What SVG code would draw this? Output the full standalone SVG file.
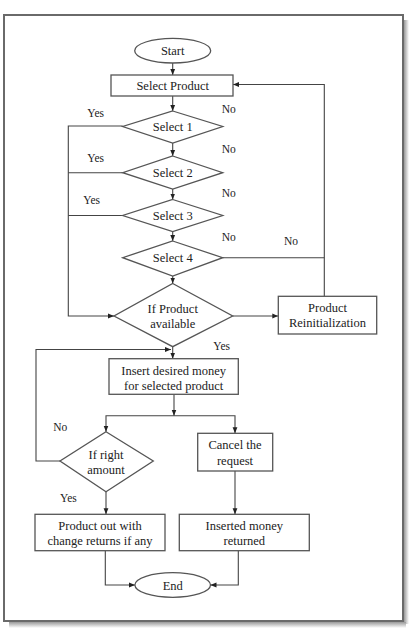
<svg xmlns="http://www.w3.org/2000/svg" width="411" height="633" viewBox="0 0 411 633">
<style>
.n{fill:#fff;stroke:#555;stroke-width:1.3}
.t{font-family:'Liberation Serif',serif;font-size:12.5px;fill:#222;text-anchor:middle}
.l{font-family:'Liberation Serif',serif;font-size:11.5px;fill:#222}
.c{fill:none;stroke:#444;stroke-width:1.1}
</style>
<defs>
<marker id="a" viewBox="0 0 10 10" refX="10" refY="5" markerWidth="6" markerHeight="6" orient="auto-start-reverse" markerUnits="userSpaceOnUse">
<path d="M0,1 L10,5 L0,9 z" fill="#222"/>
</marker>
<linearGradient id="sh" x1="0" y1="0" x2="1" y2="0"><stop offset="0" stop-color="#999"/><stop offset="1" stop-color="#fff"/></linearGradient>
<linearGradient id="shb" x1="0" y1="0" x2="0" y2="1"><stop offset="0" stop-color="#999"/><stop offset="1" stop-color="#fff"/></linearGradient>
</defs>
<rect width="411" height="633" fill="#fff"/>
<g id="frame">
<rect x="404" y="20" width="5" height="604" fill="url(#sh)"/>
<rect x="9" y="622" width="397" height="6" fill="url(#shb)"/>
<rect x="4" y="15" width="399" height="606" fill="#fff" stroke="#6a6a6a" stroke-width="2"/>
</g>
<g id="connectors">
<line class="c" x1="172.7" y1="63" x2="172.7" y2="75" marker-end="url(#a)"/>
<line class="c" x1="172.7" y1="96" x2="172.7" y2="111" marker-end="url(#a)"/>
<line class="c" x1="172.7" y1="143" x2="172.7" y2="156" marker-end="url(#a)"/>
<line class="c" x1="172.7" y1="189" x2="172.7" y2="199.5" marker-end="url(#a)"/>
<line class="c" x1="172.7" y1="231.5" x2="172.7" y2="241" marker-end="url(#a)"/>
<line class="c" x1="172.7" y1="276" x2="172.7" y2="283.5" marker-end="url(#a)"/>
<polyline class="c" points="122.7,126 68.3,126 68.3,316 114,316" marker-end="url(#a)"/>
<line class="c" x1="122.7" y1="172.7" x2="68.3" y2="172.7"/>
<line class="c" x1="122.7" y1="215.5" x2="68.3" y2="215.5"/>
<polyline class="c" points="222.7,257.7 324.3,257.7"/>
<polyline class="c" points="324.3,296.3 324.3,84.5 233,84.5" marker-end="url(#a)"/>
<line class="c" x1="232.7" y1="316" x2="278.3" y2="316" marker-end="url(#a)"/>
<line class="c" x1="172.7" y1="346.7" x2="172.7" y2="358.7" marker-end="url(#a)"/>
<line class="c" x1="174" y1="394.3" x2="174" y2="415.7" marker-end="url(#a)"/>
<polyline class="c" points="106,431.7 106,415.7 235,415.7 235,433.3" marker-start="url(#a)" marker-end="url(#a)"/>
<polyline class="c" points="60,461 36,461 36,349.5 171,349.5" marker-end="url(#a)"/>
<line class="c" x1="106" y1="491.7" x2="106" y2="514.3" marker-end="url(#a)"/>
<line class="c" x1="235" y1="471" x2="235" y2="514.3" marker-end="url(#a)"/>
<polyline class="c" points="105.3,550.7 105.3,585 135,585" marker-end="url(#a)"/>
<polyline class="c" points="238.3,550.7 238.3,585 210.5,585" marker-end="url(#a)"/>
</g>
<g id="start"><ellipse class="n" cx="172.7" cy="50.7" rx="38" ry="12.3"/><text class="t" x="172.7" y="55">Start</text></g>
<g id="select-product"><rect class="n" x="111" y="75" width="122" height="21"/><text class="t" x="172.7" y="90">Select Product</text></g>
<g id="select1"><polygon class="n" points="172.7,111 222.7,126.5 172.7,143 122.7,126.5"/><text class="t" x="172.7" y="130.5">Select 1</text></g>
<g id="select2"><polygon class="n" points="172.7,156 222.7,172.7 172.7,189 122.7,172.7"/><text class="t" x="172.7" y="177">Select 2</text></g>
<g id="select3"><polygon class="n" points="172.7,199.5 222.7,215.5 172.7,231.5 122.7,215.5"/><text class="t" x="172.7" y="219.5">Select 3</text></g>
<g id="select4"><polygon class="n" points="172.7,241 222.7,257.7 172.7,276 122.7,257.7"/><text class="t" x="172.7" y="262">Select 4</text></g>
<g id="if-product"><polygon class="n" points="172.7,283.5 232.7,316 172.7,346.7 114,316"/><text class="t" x="172.7" y="312.5">If Product</text><text class="t" x="172.7" y="327.5">available</text></g>
<g id="reinit"><rect class="n" x="278.3" y="296.3" width="98.4" height="37.7"/><text class="t" x="327.5" y="312">Product</text><text class="t" x="327.5" y="327">Reinitialization</text></g>
<g id="insert"><rect class="n" x="109" y="358.7" width="129.3" height="35.6"/><text class="t" x="173.7" y="375">Insert desired money</text><text class="t" x="173.7" y="389.5">for selected product</text></g>
<g id="right-amount"><polygon class="n" points="106,431.7 153.3,461 106,491.7 60,461"/><text class="t" x="106" y="459">If right</text><text class="t" x="106" y="474">amount</text></g>
<g id="cancel"><rect class="n" x="197.7" y="433.3" width="75" height="37.7"/><text class="t" x="235" y="449">Cancel the</text><text class="t" x="235" y="465">request</text></g>
<g id="product-out"><rect class="n" x="35" y="514.3" width="130" height="36.4"/><text class="t" x="100" y="530">Product out with</text><text class="t" x="100" y="544.5">change returns if any</text></g>
<g id="money-returned"><rect class="n" x="179.3" y="514.3" width="130" height="36.4"/><text class="t" x="244.3" y="530">Inserted money</text><text class="t" x="244.3" y="544.5">returned</text></g>
<g id="end"><ellipse class="n" cx="172.7" cy="585" rx="37.8" ry="12.3"/><text class="t" x="172.7" y="589.5">End</text></g>
<g id="labels">
<text class="l" x="87.3" y="117">Yes</text>
<text class="l" x="221.7" y="113">No</text>
<text class="l" x="87.3" y="162">Yes</text>
<text class="l" x="221.7" y="153">No</text>
<text class="l" x="83.3" y="204">Yes</text>
<text class="l" x="221.7" y="197">No</text>
<text class="l" x="221.7" y="241">No</text>
<text class="l" x="284" y="244.5">No</text>
<text class="l" x="213.3" y="349.5">Yes</text>
<text class="l" x="53.3" y="430.5">No</text>
<text class="l" x="60" y="501.5">Yes</text>
</g>
</svg>
